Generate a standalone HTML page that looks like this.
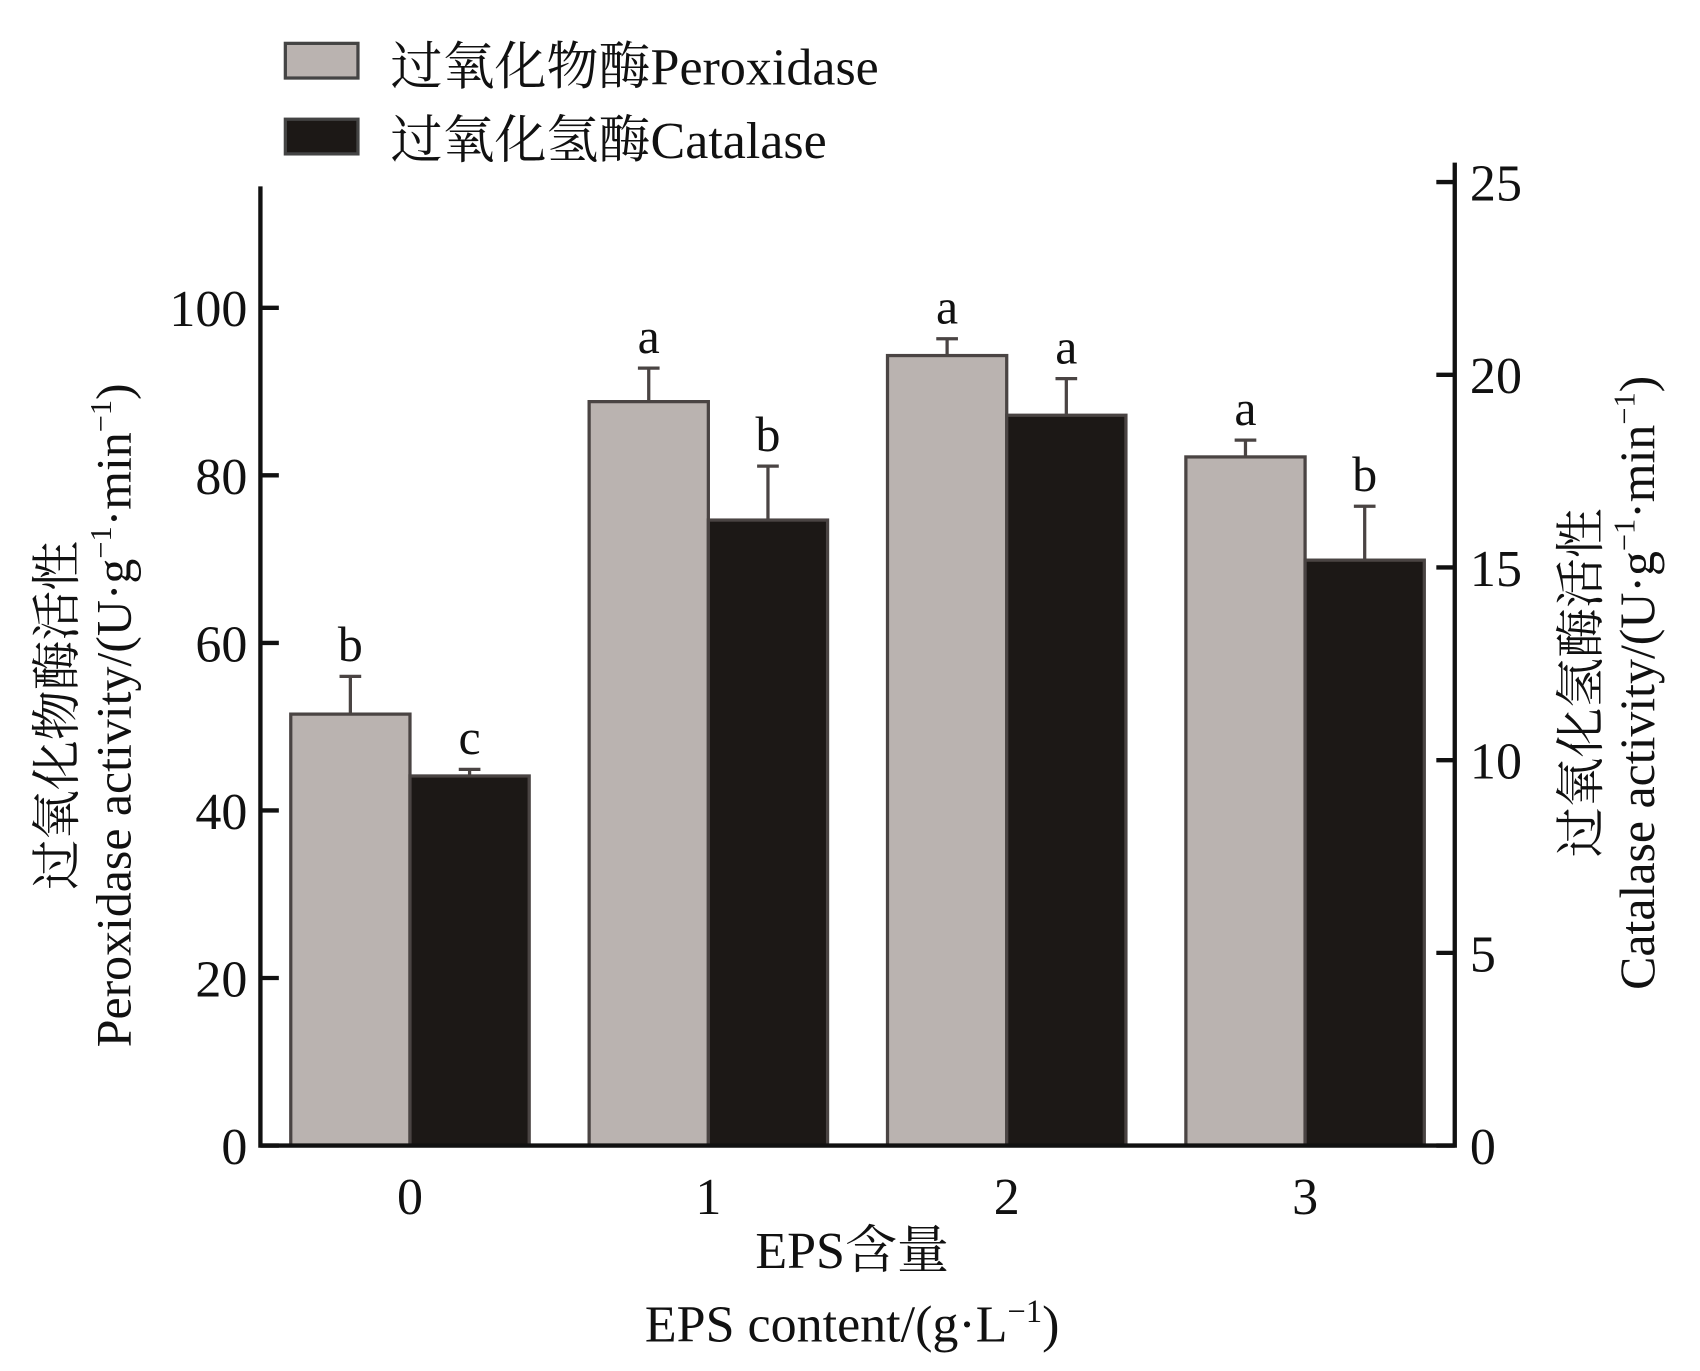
<!DOCTYPE html>
<html><head><meta charset="utf-8"><style>
html,body{margin:0;padding:0;background:#fff;}
svg{display:block;}
text{font-family:"Liberation Serif","Noto Serif CJK SC","Noto Sans CJK SC",serif;fill:#111;}
</style></head><body>
<svg id="chart" width="1700" height="1371" viewBox="0 0 1568 1265" xmlns="http://www.w3.org/2000/svg">
<g>
<rect x="263" y="40" width="67" height="32" fill="#bab3b0" stroke="#444" stroke-width="3"/>
<text x="360" y="78" font-size="48">过氧化物酶Peroxidase</text>
<rect x="263" y="110" width="67" height="32" fill="#1c1816" stroke="#444" stroke-width="3"/>
<text x="360" y="146" font-size="48">过氧化氢酶Catalase</text>
</g>
<g id="plot"></g>
<text x="786" y="1170" font-size="48" text-anchor="middle">EPS含量</text>
<text x="786" y="1238" font-size="48" text-anchor="middle">EPS content/(g·L<tspan font-size="30" dy="-18">−1</tspan><tspan dy="18">)</tspan></text>
<g transform="translate(0,660) rotate(-90)">
<text x="0" y="68" font-size="46" text-anchor="middle">过氧化物酶活性</text>
<text x="0" y="120" font-size="46" text-anchor="middle">Peroxidase activity/(U·g<tspan font-size="28" dy="-18">−1</tspan><tspan dy="18">·min</tspan><tspan font-size="28" dy="-18">−1</tspan><tspan dy="18">)</tspan></text>
</g>
<g transform="translate(0,630) rotate(-90)">
<text x="0" y="1474" font-size="46" text-anchor="middle">过氧化氢酶活性</text>
<text x="0" y="1526" font-size="46" text-anchor="middle">Catalase activity/(U·g<tspan font-size="28" dy="-18">−1</tspan><tspan dy="18">·min</tspan><tspan font-size="28" dy="-18">−1</tspan><tspan dy="18">)</tspan></text>
</g>
</svg>
<script>
const categories = ["0","1","2","3"];
const peroxidase = [51.5, 88.8, 94.3, 82.2];
const peroxidaseErr = [4.5, 4.0, 2.0, 2.0];
const catalase = [9.59, 16.23, 18.95, 15.19];
const catalaseErr = [0.17, 1.4, 0.95, 1.4];
const peroxidaseLetters = ["b","a","a","a"];
const catalaseLetters = ["c","b","a","b"];
const leftTicks = [0,20,40,60,80,100];
const rightTicks = [0,5,10,15,20,25];

const NS="http://www.w3.org/2000/svg";
const g=document.getElementById('plot');
const X0=240, X1=1342, BASE=1057;
const yL=v=>BASE-v*7.73;
const yR=v=>BASE-v*35.56;
const groupStart=i=>268+i*275.3;
const BW=110;
function mk(t,a,p){const e=document.createElementNS(NS,t);for(const k in a)e.setAttribute(k,a[k]);(p||g).appendChild(e);return e;}

categories.forEach((c,i)=>{
  const gx=groupStart(i);
  // peroxidase
  const top=yL(peroxidase[i]);
  const b1=mk('rect',{x:gx,y:top,width:BW,height:BASE-top,fill:'#bab3b0',stroke:'#4a4443','stroke-width':3});
  
  
  const et=yL(peroxidase[i]+peroxidaseErr[i]);
  const e1=mk('path',{d:`M${gx+BW/2},${top}V${et}M${gx+BW/2-10},${et}H${gx+BW/2+10}`,stroke:'#4a4443','stroke-width':3,fill:'none'});
  
  
  const l1=mk('text',{x:gx+BW/2,y:et-14,'font-size':46,'text-anchor':'middle'});l1.textContent=peroxidaseLetters[i];
  
  
  // catalase
  const cx=gx+BW;
  const ct=yR(catalase[i]);
  const b2=mk('rect',{x:cx,y:ct,width:BW,height:BASE-ct,fill:'#1c1816',stroke:'#4a4443','stroke-width':3});
  
  
  const ct2=yR(catalase[i]+catalaseErr[i]);
  const e2=mk('path',{d:`M${cx+BW/2},${ct}V${ct2}M${cx+BW/2-10},${ct2}H${cx+BW/2+10}`,stroke:'#4a4443','stroke-width':3,fill:'none'});
  
  
  const l2=mk('text',{x:cx+BW/2,y:ct2-14,'font-size':46,'text-anchor':'middle'});l2.textContent=catalaseLetters[i];
  
  
  const xl=mk('text',{x:gx+BW,y:1120,'font-size':48,'text-anchor':'middle'});xl.textContent=c;
  
  
});
// axes
const ax=mk('path',{d:`M${X0},172V${BASE}H${X1}V150`,stroke:'#111','stroke-width':4,fill:'none'});


leftTicks.forEach(v=>{
  const t=mk('line',{x1:X0,x2:X0+17,y1:yL(v),y2:yL(v),stroke:'#111','stroke-width':4});
  
  
  const l=mk('text',{x:X0-12,y:yL(v)+17,'font-size':48,'text-anchor':'end'});l.textContent=v;
  
  
});
rightTicks.forEach(v=>{
  const t=mk('line',{x1:X1-17,x2:X1,y1:yR(v),y2:yR(v),stroke:'#111','stroke-width':4});
  
  
  const l=mk('text',{x:X1+14,y:yR(v)+17,'font-size':48});l.textContent=v;
  
  
});
</script>
</body></html>
